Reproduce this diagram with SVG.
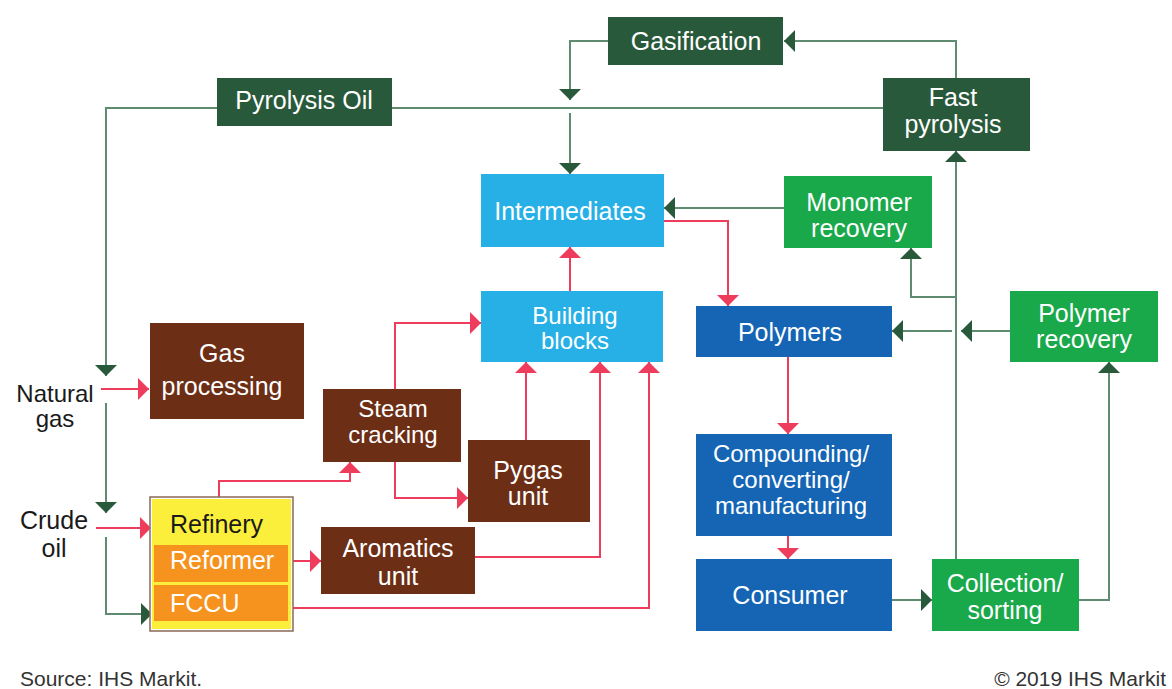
<svg xmlns="http://www.w3.org/2000/svg" width="1172" height="689" viewBox="0 0 1172 689">
<style>
text{font-family:"Liberation Sans",Arial,sans-serif;font-size:25px;text-anchor:middle}
.m{font-size:24px}
.w{fill:#fff}
.k{fill:#1a1a1a}
.dg{fill:#29593b}
.lb{fill:#27b0e6}
.mb{fill:#1565b4}
.bg{fill:#19a84a}
.br{fill:#6c2e15}
.g{fill:none;stroke:#5f8c71;stroke-width:2;marker-end:url(#ag)}
.r{fill:none;stroke:#ee3d5c;stroke-width:2;marker-end:url(#ar)}
.gn{fill:none;stroke:#5f8c71;stroke-width:2}
.src{font-size:21px;fill:#333}
</style>
<defs>
<marker id="ag" markerUnits="userSpaceOnUse" markerWidth="12" markerHeight="22" refX="11" refY="11" orient="auto"><path d="M0,0 L11,11 L0,22 z" fill="#29593b"/></marker>
<marker id="ar" markerUnits="userSpaceOnUse" markerWidth="12" markerHeight="22" refX="11" refY="11" orient="auto"><path d="M0,0 L11,11 L0,22 z" fill="#ee3d5c"/></marker>
</defs>
<rect width="1172" height="689" fill="#fff"/>
<g id="connectors">
<path class="g" d="M608,41 H570 V100"/>
<path class="gn" d="M883,108 H106 V365"/>
<path class="g" d="M106,360 V376"/>
<path class="g" d="M570,113 V174"/>
<path class="g" d="M106,403 V513"/>
<path class="g" d="M106,537 V614 H152"/>
<path class="g" d="M956,559 V151"/>
<path class="g" d="M956,78 V41 H784"/>
<path class="g" d="M784,208 H664"/>
<path class="g" d="M956,297 H911 V248"/>
<path class="g" d="M1010,331 H961"/>
<path class="g" d="M952,331 H892"/>
<path class="g" d="M892,600 H932"/>
<path class="g" d="M1079,600 H1109 V362"/>
<path class="r" d="M101,389 H149"/>
<path class="r" d="M96,528 H151"/>
<path class="r" d="M219,497 V481 H350 V462"/>
<path class="r" d="M395,389 V323 H481"/>
<path class="r" d="M395,462 V498 H468"/>
<path class="r" d="M526,440 V362"/>
<path class="r" d="M475,557 H600 V362"/>
<path class="r" d="M290,561 H321"/>
<path class="r" d="M290,608 H649 V362"/>
<path class="r" d="M570,291 V247"/>
<path class="r" d="M664,221 H728 V306"/>
<path class="r" d="M788,357 V434"/>
<path class="r" d="M788,536 V559"/>
</g>
<g id="gasification"><rect class="dg" x="608" y="17" width="175" height="48"/><text class="w" x="696" y="50">Gasification</text></g>
<g id="pyrolysis-oil"><rect class="dg" x="217" y="78" width="175" height="48"/><text class="w" x="304" y="109">Pyrolysis Oil</text></g>
<g id="fast-pyrolysis"><rect class="dg" x="883" y="78" width="147" height="73"/><text class="w" x="953" y="106">Fast</text><text class="w" x="953" y="133">pyrolysis</text></g>
<g id="intermediates"><rect class="lb" x="481" y="174" width="183" height="73"/><text class="w" x="570" y="220">Intermediates</text></g>
<g id="monomer-recovery"><rect class="bg" x="784" y="176" width="148" height="72"/><text class="w" x="859" y="211">Monomer</text><text class="w" x="859" y="237">recovery</text></g>
<g id="building-blocks"><rect class="lb" x="481" y="291" width="182" height="71"/><text class="w m" x="575" y="324">Building</text><text class="w m" x="575" y="349">blocks</text></g>
<g id="polymers"><rect class="mb" x="696" y="306" width="196" height="51"/><text class="w" x="790" y="341">Polymers</text></g>
<g id="polymer-recovery"><rect class="bg" x="1010" y="291" width="148" height="71"/><text class="w" x="1084" y="322">Polymer</text><text class="w" x="1084" y="348">recovery</text></g>
<g id="natural-gas"><text class="k m" x="55" y="402">Natural</text><text class="k m" x="55" y="427">gas</text></g>
<g id="gas-processing"><rect class="br" x="150" y="323" width="154" height="96"/><text class="w" x="222" y="362">Gas</text><text class="w" x="222" y="395">processing</text></g>
<g id="steam-cracking"><rect class="br" x="323" y="389" width="138" height="73"/><text class="w m" x="393" y="417">Steam</text><text class="w m" x="393" y="443">cracking</text></g>
<g id="pygas-unit"><rect class="br" x="468" y="440" width="122" height="82"/><text class="w" x="528" y="479">Pygas</text><text class="w" x="528" y="505">unit</text></g>
<g id="crude-oil"><text class="k" x="54" y="529">Crude</text><text class="k" x="54" y="557">oil</text></g>
<g id="refinery">
<rect x="150" y="497" width="143" height="134" fill="#fff" stroke="#8a6a55" stroke-width="1.5"/>
<rect x="152" y="499" width="139" height="130" fill="#fcef3c"/>
<rect x="154" y="545" width="134" height="37" fill="#f6921e"/>
<rect x="154" y="585" width="134" height="36" fill="#f6921e"/>
<text class="k" x="170" y="533" style="text-anchor:start">Refinery</text>
<text class="w" x="170" y="569" style="text-anchor:start">Reformer</text>
<text class="w" x="170" y="612" style="text-anchor:start">FCCU</text>
</g>
<g id="aromatics-unit"><rect class="br" x="321" y="527" width="154" height="67"/><text class="w" x="398" y="557">Aromatics</text><text class="w" x="398" y="585">unit</text></g>
<g id="compounding"><rect class="mb" x="696" y="434" width="196" height="102"/><text class="w m" x="791" y="462">Compounding/</text><text class="w m" x="791" y="488">converting/</text><text class="w m" x="791" y="514">manufacturing</text></g>
<g id="consumer"><rect class="mb" x="696" y="559" width="196" height="72"/><text class="w" x="790" y="604">Consumer</text></g>
<g id="collection-sorting"><rect class="bg" x="932" y="559" width="147" height="72"/><text class="w" x="1005" y="592">Collection/</text><text class="w" x="1005" y="619">sorting</text></g>
<text class="src" x="20" y="686" style="text-anchor:start">Source: IHS Markit.</text>
<text class="src" x="1166" y="686" style="text-anchor:end">© 2019 IHS Markit</text>
</svg>
